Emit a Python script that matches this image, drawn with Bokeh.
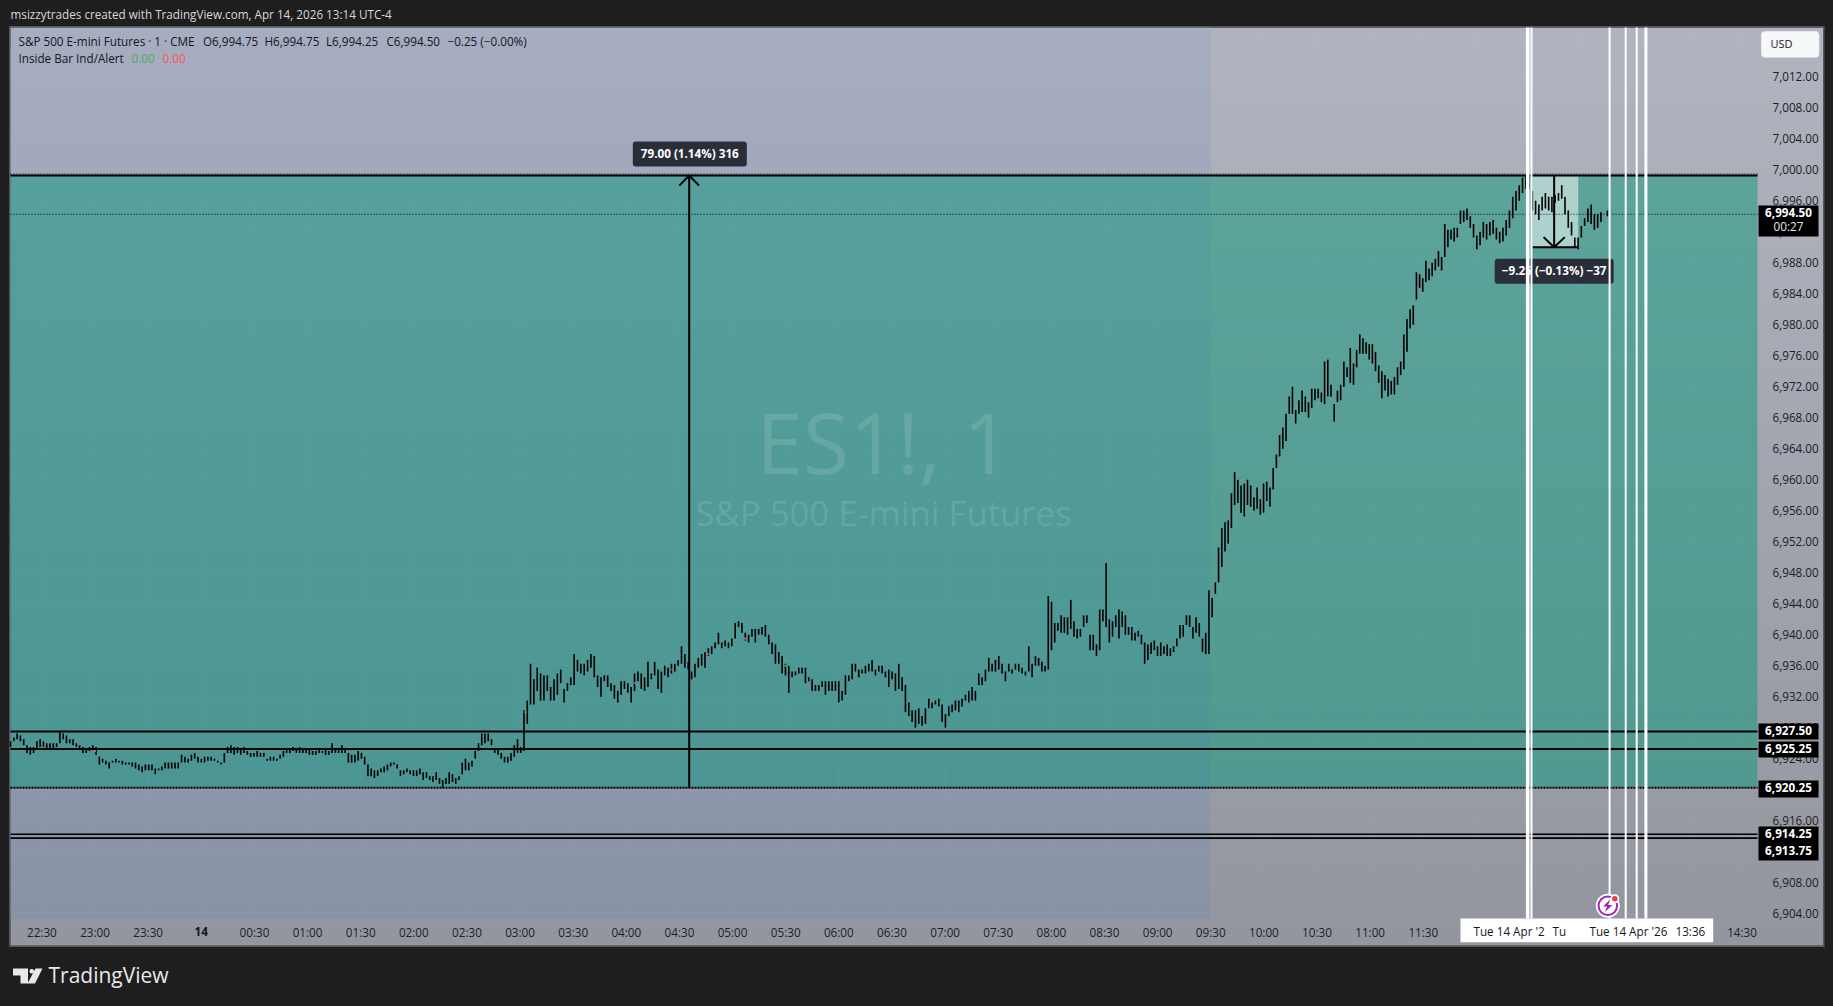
from bokeh.embed import file_html
from bokeh.resources import INLINE
from bokeh.plotting import figure
from bokeh.models import (BoxAnnotation, Label, LinearAxis, FixedTicker, Range1d,
                          PolyAnnotation, GlobalInlineStyleSheet, NumeralTickFormatter)
import numpy as np

# ---------- data: (high, low) in points above BASE ----------
BASE = 6900
range_a = [(26.25,25.5),(26.75,26.25),(27.25,26.5),(27,26.25),(26.5,25.75),(25.75,24.75),(25.5,24.5),(25.5,24.75),(26.25,25.25),(26.5,25.5),(26.25,25.5),(26,25.25),(26,25.25),(26,25.25),(26,25.5),(27.5,26),(27.25,26.5),(27,26),(26.5,26),(26.5,25.75),(26,25.5),(25.75,25.25),(25.5,24.75),(25.25,24.75),(25.5,25),(25.75,25.25),(25.5,24.5),
(24.25,23.25),(24,23.5),(23.75,23.25),(23.5,22.75),(23.75,23.5),(24,23.5),(23.75,23.5),(23.75,23.25),(23.5,23.25),(23.5,23.25),(23.5,23),(23.5,22.75),(23.25,22.5),(23,22.25),(23.25,22.5),(23.25,22.5),(23.25,22.5),(22.75,22),(22.75,22.5),(23,22.5),(23.5,22.75),(23.5,22.75),(23.5,22.75),(23.5,22.75),(23.5,22.75),(24.5,23.5),(24.25,23.5),(24,23.5),(24.5,23.75),(24.75,24),(24.25,23.5),(24,23.5),(24.25,23.5),(24.25,23.75),(24.25,23.75),(24,23.75),(23.75,23.5),(23.5,23.25),(24.75,23.5),(25.5,24.75),(25.75,24.75),(25.5,24.5),(25.5,24.75),(25.25,24.5),(25.5,24.75),(25,24.5),(24.75,24.25),(24.75,24.25),(25,24.25),(24.75,24.25),(24.75,24.25),(24,23.75)]
range_b = [(24.25,23.75),(24.25,23.75),(24,23.75),(24.5,24),(25,24.25),(25.25,24.75),(25.25,24.75),(25.5,25),(25.25,24.75),(25.5,24.75),(25.25,24.75),(25.25,24.75),(25.25,24.5),(25,24.5),(25,24.5),(25.25,24.75),(25,24.75),(25.25,24.5),(25,24.5),(26,24.75),(25.25,24.75),(25.25,24.75),(25.75,24.75),(25.25,24.75),(24.75,23.5),(24.5,23.5),(24.5,23.5),(25,23.75),(24.75,24),(24.25,23.25),(23.25,21.75),(22.75,21.75),(22.5,21.5),(22.5,21.75),(22.75,22.25),(23,22.25),(23.25,22.5),(23.5,23),(23.5,23.25),(23.25,22.75),(22.5,21.75),(22.5,22),(22.75,22.25),(22.5,22),(22.5,21.75),(22.5,21.75),(22.75,22),(22.25,21.25),(22.25,21.5),(21.75,21.25),(21.75,21),(22.25,21.25),(21.5,20.75),(21.25,20.25),(21.5,20.75),(22.25,20.75),(22,21),(21.5,20.75),(21.75,21.25),(23.5,22),(24,22.5),(23.5,22.5),(23.75,23),(25,24),(26,25),(27.25,25.75),(27.25,26),(27.25,26.25),(26.5,25.75),(25.25,24.75),(25.25,24.5),(24.75,24),(24.25,23.5),(24.25,23.5),(24.75,23.75),(25.75,24.25),(26.5,24.75),(25.5,24.75),(30.25,25),(31.5,28.5)]
range_c = [(36.25,31),(34.25,31),(35.75,32.75),(35,31.5),(34.75,31.5),(34.75,32.75),(33.25,31.5),(34.25,31.5),(35,32.25),(35.5,33.75),(33,31.25),(33.75,32.75),(34.5,33.5),(37.5,33.5),(36.75,35.25),(36.25,35),(36.25,34.75),(36.75,35.25),(37.5,35.75),(37.25,34.5),(34.75,33.25),(34.5,32),(34.75,34),(34.75,33.25),(33.75,32.75),(33.5,31.75),(32.75,31.25),(34,32.25),(34,33),(33.75,32.5),(33.25,31.25),(35,32.75),(35.25,34),(35,33),(34.5,32.75),(36.5,33.25),(35,34.25),(36.5,34.75),(35.5,33),(35.25,32.5),(36,34.75),(35.75,34.5),(36.25,35),(36.25,35.25),(36.75,36),(38.5,36.25),(37.5,35.75),(36.5,35.5),(35.25,34.25),(36.25,34.5),(37,35.75),(37.5,36),(37.75,35.75),(38.25,37.25),(38.5,37.5),(39,38.25),(40.25,38.75),(39,38.25),(39.25,38.5),(39,38.25),(39.5,38.5),(41.5,39.5),(41.75,41),(41.5,40.25),(40.25,39.25),(40,39),(40.75,39.75),(40.75,39),(40.75,40),(41,40),(41.25,39.75),(40,38.75),(39,37.5)]
range_d = [(38.75,36.25),(37.75,36.25),(37.25,35),(36.25,34.75),(36,32.5),(35.25,34.5),(35.25,34.75),(35.75,35),(35.75,35),(35.75,33.75),(34.5,34),(34.25,32.75),(33.5,32.75),(33.5,32.75),(34,33.25),(34,32.25),(34,32.75),(34,32.75),(34,32.75),(34,31.25),(32.75,31.5),(34.75,32.25),(34.75,34),(36.25,34.25),(36.25,35.25),(35.5,34.5),(35.5,35),(36,35),(36.25,35.25),(36.75,35.25),(35.5,34.75),(36,35.25),(36,35),(35.25,34.5),(35.5,33.25),(35.25,34.25),(35,32.75),(36.25,33),(34.5,32.75),(33.5,30),(31.25,29.5),(30.25,28.75),(30.25,28),(30.5,28.5),(29.5,28.25),(30.5,28.5),(31.75,30.5),(31.25,30.5),(31.5,31),(31.75,30.75),(31,28.75),(29.75,28),(30.75,29.5),(31,30),(31.5,30.25),(31.5,30),(31.75,30.75),(32.25,31.5),(32.75,31.25),(33.25,31.5),(32.75,31.5),(35,33.5),(34.5,33.5),(35.5,34),(37,35.25),(36.25,35.25),(36.75,35.25),(37.25,35.5),(36.25,35),(35.25,34),(36.25,35.25),(35.5,35),(36.25,35.5),(36.25,35.25),(35.75,35),(35.25,34.75),(38.5,35.25),(36.25,34.5)]
range_e = [(37.25,36),(37,36),(36.5,35.25),(36,35.25),(45,35.5),(44.25,38),(41.5,39),(41.5,40.5),(42.5,40.25),(42.25,40.25),(42.25,40),(44.5,40.75),(41.75,39.75),(40.75,39.5),(40.75,39.75),(42.5,41),(42.5,41.5),(40,38),(40,38),(38.75,37.25),(43.25,38),(43.25,41.75),(49.25,41),(42,39),(41.75,39.75),(42.5,41),(43.25,39.5),(43,41),(42.5,40),(41,40),(41,39.25),(40.25,39.25),(40.5,39.75),(40,38.75),(39,36.25),(38.75,36.75),(39,37.5),(39.25,38),(38.5,37.25),(39,37.25),(38.5,37.5),(38.75,37.25),(38.25,37.25),(38.5,37.75),(39.5,38.5),(41.25,39.5),(41.25,39.75),(42.5,41.25),(42.5,41),(41,39.5),(42.25,40.25),(41.5,39.75),(39.5,37.75),(40.25,37.5),(45.75,37.5),(44.75,42.25),(46.75,45.25),(51.25,46.75),(53.75,48.75),(54.5,50.75),(54.75,51.75),(58.25,53.75),(61,56.75),(60,57),(59.25,55.75),(59.5,55.25),(60,56.75),(59.25,56.5),(57.75,56),(59,56.25),(57.5,55.5),(59.5,55.75),(59.75,57.25),(59,56.5),(61.5,58.75),(63.25,61.5),(65.75,63),(66.75,64),(68.5,65),(70.75,68.5),(72,68.5),(69,67.25),(70.25,68.5),(71.5,68.75),(70.75,68.75),(70,68),(71.75,69.25),(71.75,70.25),(71.75,70.5),(71.25,70),(75.25,69.75),(75.5,70.75),(72.25,70.75),(69.75,67.5),(71.5,70),(72.25,70.25),(75.25,72),(74.5,73.25),(77,72.5)]
range_f = [(75,72.25),(76.75,74.5),(78.75,76.25),(78.25,76.25),(77.75,76.25),(77.5,75.5),(77.5,75),(76.5,74),(74.75,72.5),(74,70.5),(73.5,71.5),(73,70.75),(72.75,71),(73.25,71),(74.5,72.25),(75.25,73.5),(78.75,74.25),(80.75,76.5),(82,79.5),(82.5,80),(86.75,83.25),(86.5,84.75),(86,84.25),(88.25,85.5),(87.25,85.75),(88,86.25),(88.5,87),(89.5,87.5),(88.75,87),(93,88.75),(92.25,90),(92.25,91),(92.5,90.75),(92.5,91.25)]
range_g = [(94.75,93),(94.75,93.25),(95,93.5),(94,92.5),(93,91.25),(91.5,89.75),(92,90.25),(93.25,91.25),(93,91),(93.25,91.5),(93.5,91.75),(92.5,91),(92,90.5),(92.5,90.75),(93.5,91.5),(94.75,92.5),(96.5,93.75),(97.25,94.75),(98,96),(99,97),(99.25,97.5),(99.25,97.5),(97.25,94.75),(96,94.25),(95.5,93.5),(96.5,94.75),(97,95),(96.5,94.75),(96.5,94.5),(96.75,95.75),(97,96),(98,96.25),(96.5,94.25),(94.75,92.5),(93.25,91.5),(91.25,90),(91.25,89.75),(92.75,91.25),(93.75,92.75),(95,93.25),(95.5,93),(94.25,92.25),(94.25,92.5),(94.5,93.25),(94.75,94)]
# minutes after 22:30 at which each block of readings starts and ends
session_edges = [-17.7, 129, 275.9, 414.2, 561, 740.6, 801, 884]
sessions = [range_a, range_b, range_c, range_d, range_e, range_f, range_g]

price_ticks = list(range(6904, 7016, 4))
time_ticks = [i * 30 for i in range(33)]
time_labels = ["22:30","23:00","23:30","","00:30","01:00","01:30","02:00","02:30","03:00","03:30","04:00","04:30","05:00","05:30","06:00","06:30","07:00","07:30","08:00","08:30","09:00","09:30","10:00","10:30","11:00","11:30","12:00","12:30","13:00","13:30","14:00","14:30"]
level_lines = [6927.50, 6925.25, 6914.25, 6913.75]
range_high, range_low = 6999.25, 6920.25
drop_low = 6990.0
last_line = 6994.25
session_open_min = 660
white_line_min = [(838.96,3.6),(841.1,2),(885.2,2),(894.3,2),(900.5,2),(905.7,3)]
red_marks = [(335,33.75),(356,35.5),(376,37.5),(397,39.5),(433,33.5),(777,84.75),(30,25)]
green_marks = [(273,30),(758,73.75),(60,27.5),(420,36)]

# ---------- geometry: the frame fills the page, the panes sit inside it ----------
W, H = 1833, 1006
L, R, T, B = 10, 1757, 27, 918
PXMIN = 1.771
PXPT = 7.75
x_l = (L - 41.4) / PXMIN
x_r = (R - 41.4) / PXMIN
y_t = 7000 + (169.2 - T) / PXPT
y_b = 7000 - (B - 169.2) / PXPT
def px_x(px): return x_l + (px - L) / PXMIN
def px_y(py): return y_t - (py - T) / PXPT

FONT = "Open Sans"
p = figure(width=W, height=H, output_backend="svg", toolbar_location=None,
           x_range=Range1d(px_x(0), px_x(W)), y_range=Range1d(px_y(H), px_y(0)),
           min_border=0, x_axis_location="below", y_axis_location=None,
           border_fill_color="#1e1e1e", background_fill_color="#1e1e1e", outline_line_color=None)
p.stylesheets = [GlobalInlineStyleSheet(css="html,body{margin:0;padding:0;background:#1e1e1e;overflow:hidden}")]
p.grid.visible = False

def strips(xa, xb, ya, yb, c_top, c_bot, n=46):
    for i in range(n):
        f = i / (n - 1)
        col = tuple(int(round(a + (b - a) * f)) for a, b in zip(c_top, c_bot))
        t = ya + (yb - ya) * i / n
        b = yb if i == n - 1 else ya + (yb - ya) * (i + 2) / n
        p.add_layout(BoxAnnotation(left=px_x(xa), right=px_x(xb), top=px_y(t), bottom=px_y(b),
                                   fill_color="#%02x%02x%02x" % col, fill_alpha=1, line_color=None, level="underlay"))
strips(L, 1822.5, T, 945, (177,179,190), (148,150,159))
strips(L, PXMIN * (session_open_min - x_l) + L, T, B, (166,173,193), (138,146,168))
for kw in [dict(left=px_x(8.5), right=px_x(L), top=px_y(25.5), bottom=px_y(946.5)),
           dict(left=px_x(1822.5), right=px_x(1824), top=px_y(25.5), bottom=px_y(946.5)),
           dict(left=px_x(8.5), right=px_x(1824), top=px_y(25.5), bottom=px_y(T)),
           dict(left=px_x(8.5), right=px_x(1824), top=px_y(945), bottom=px_y(946.5))]:
    p.add_layout(BoxAnnotation(fill_color="#55565a", fill_alpha=1, line_color=None, level="underlay", **kw))

# range band and the lighter drop box
p.add_layout(BoxAnnotation(left=x_l, right=x_r, top=range_high, bottom=range_low, fill_color="#009678",
                           fill_alpha=0.466, line_color=None, level="underlay"))
drop_x = 853.9
p.add_layout(BoxAnnotation(left=841.7, right=867.5, top=range_high, bottom=drop_low, fill_color="#ffffff",
                           fill_alpha=0.5, line_color=None, level="underlay"))

# grid, kept inside the pane
p.segment(time_ticks, [y_b] * len(time_ticks), time_ticks, [y_t] * len(time_ticks), line_color="#ffffff", line_alpha=0.035, line_width=1)
p.segment([x_l] * len(price_ticks), price_ticks, [x_r] * len(price_ticks), price_ticks, line_color="#ffffff", line_alpha=0.035, line_width=1)

# axes, pinned to the pane edges
xa = p.xaxis[0]
xa.fixed_location = px_y(917)
xa.ticker = FixedTicker(ticks=time_ticks)
xa.major_label_overrides = dict(zip(time_ticks, time_labels))
ya = LinearAxis(ticker=FixedTicker(ticks=price_ticks), formatter=NumeralTickFormatter(format="0,0.00"), fixed_location=x_r)
p.add_layout(ya, "right")
for ax, standoff in ((xa, 0), (ya, 9)):
    ax.major_tick_line_color = None
    ax.minor_tick_line_color = None
    ax.axis_line_color = None
    ax.major_label_text_font = FONT
    ax.major_label_text_font_size = "11.7px"
    ax.major_label_text_color = "#1c1e26"
    ax.major_label_standoff = standoff

# bars
xs, hi, lo = [], [], []
for s, a, b in zip(sessions, session_edges[:-1], session_edges[1:]):
    t = np.linspace(a, b, len(s), endpoint=False)
    xs.extend(t.tolist())
    hi.extend(BASE + h for h, _ in s)
    lo.extend(BASE + l for _, l in s)
xs[-1] = session_edges[-1]
p.segment(xs, lo, xs, hi, line_color="#000000", line_width=1.6)
p.scatter([m for m, _ in red_marks], [BASE + v for _, v in red_marks], marker="square", size=2, color="#ef5350", line_color=None)
p.scatter([m for m, _ in green_marks], [BASE + v for _, v in green_marks], marker="square", size=2, color="#4caf50", line_color=None)

# measure arrows
UP_X = 365.5
p.segment([UP_X], [range_low], [UP_X], [range_high], line_color="black", line_width=2)
p.multi_line([[UP_X - 5.6, UP_X, UP_X + 5.6]], [[range_high - 1.3, range_high, range_high - 1.3]], line_color="black", line_width=2)
p.segment([drop_x], [range_high], [drop_x], [drop_low], line_color="black", line_width=2)
p.multi_line([[drop_x - 6, drop_x, drop_x + 6]], [[drop_low + 1.3, drop_low, drop_low + 1.3]], line_color="black", line_width=2)
p.segment([841.7], [drop_low], [867.5], [drop_low], line_color="black", line_width=2)

# horizontal levels
def hline(y, w, dash="solid"):
    p.segment([x_l], [y], [x_r], [y], line_color="black", line_width=w, line_dash=dash, level="annotation")
for lv, w in zip(level_lines, [2, 2, 1.6, 1.6]):
    hline(lv, w)
hline(range_high, 2)
hline(range_high + 0.2, 1, "1 2")
hline(range_low, 2, "2 1")
hline(last_line, 1, "1 2")

# watermark
p.add_layout(Label(x=px_x(883), y=px_y(441), text="ES1!, 1", text_font=FONT, text_font_size="84px", text_color="#ffffff",
                   text_alpha=0.12, text_align="center", text_baseline="middle"))
p.add_layout(Label(x=px_x(883), y=px_y(512), text="S&P 500 E-mini Futures", text_font=FONT, text_font_size="34.7px", text_color="#ffffff",
                   text_alpha=0.12, text_align="center", text_baseline="middle"))

def text(px, py, s, size="11.7px", color="#131722", align="left", style="normal", level="annotation", font=FONT):
    p.add_layout(Label(x=px_x(px), y=px_y(py - 1.5), text=s, text_font=font, text_font_size=size, text_color=color,
                       text_align=align, text_baseline="middle", text_font_style=style, level=level))

# tooltips stay under the white drawings
def tooltip(cx, py, s, halfw):
    p.add_layout(BoxAnnotation(left=px_x(cx - halfw), right=px_x(cx + halfw), top=px_y(py - 12.5), bottom=px_y(py + 12.5),
                               fill_color="#2a2e39", fill_alpha=1, line_color=None, border_radius=3, level="guide"))
    text(cx, py, s, color="#ffffff", align="center", style="bold", level="guide")
tooltip(689.3, 153.5, "79.00 (1.14%) 316", 57)
tooltip(1553.7, 270.7, "\u22129.25 (\u22120.13%) \u221237", 59.5)

# legend and captions
for px_pos, s in [(18, "S&P 500 E-mini Futures \u00b7 1 \u00b7 CME"), (202.5, "O6,994.75"), (264, "H6,994.75"),
                  (325.5, "L6,994.25"), (386, "C6,994.50"), (447, "\u22120.25 (\u22120.00%)")]:
    text(px_pos, 42, s)
text(18, 59, "Inside Bar Ind/Alert")
text(131, 59, "0.00", color="#4caf50")
text(162, 59, "0.00", color="#ff5252")
text(10, 15, "msizzytrades created with TradingView.com, Apr 14, 2026 13:14 UTC-4", color="#d8d8d8")

# time-axis cursor strip
p.add_layout(BoxAnnotation(left=px_x(1460), right=px_x(1712.7), top=px_y(B), bottom=px_y(941.7), fill_color="#ffffff", fill_alpha=1, line_color=None))
text(1473, 932, "Tue 14 Apr '2")
text(1552, 932, "Tu")
text(1589, 932, "Tue 14 Apr '26")
text(1675, 932, "13:36")
text(200.8, 932, "14", align="center", style="bold")

# USD button
p.add_layout(BoxAnnotation(left=px_x(1760.7), right=px_x(1818.7), top=px_y(30.7), bottom=px_y(57), fill_color="#f7f8fa", fill_alpha=1,
                           line_color="#dfe1e6", border_radius=4))
text(1770, 44, "USD", size="11px")

# price tags
def tag_box(top, bottom):
    p.add_layout(BoxAnnotation(left=px_x(1758), right=px_x(1818), top=px_y(top), bottom=px_y(bottom), fill_color="#000000", fill_alpha=1, line_color=None))
tag_box(205, 236)
text(1788, 213, "6,994.50", color="#ffffff", align="center", style="bold")
text(1788, 227, "00:27", color="#e8e8e8", align="center")
for top, bottom, cy, s in [(723, 739, 731, "6,927.50"), (741, 757, 749, "6,925.25"), (780, 797, 788, "6,920.25"), (826, 860, 834, "6,914.25")]:
    tag_box(top, bottom)
    text(1788, cy, s, color="#ffffff", align="center", style="bold")
text(1788, 851, "6,913.75", color="#ffffff", align="center", style="bold")

# white vertical drawings
for m, w in white_line_min:
    p.segment([m], [y_b], [m], [y_t], line_color="#ffffff", line_width=w, level="annotation")

# alert icon
ICON_X, ICON_P = px_x(1607.3), px_y(905.3)
p.scatter([ICON_X], [ICON_P], size=24, color="#ffffff", line_color=None, level="annotation")
p.scatter([ICON_X], [ICON_P], size=18.5, fill_color="#ffffff", line_color="#9c27b0", line_width=2, level="annotation")
p.scatter([px_x(1614.3)], [px_y(898.3)], size=9, color="#ffffff", line_color=None, level="annotation")
p.scatter([px_x(1614.3)], [px_y(898.3)], size=5.5, color="#f23645", line_color=None, level="annotation")
bolt = [(1609.5,899),(1602.5,906),(1606.5,906),(1604.5,911.5),(1612,904.5),(1607.8,904.5)]
p.patch([px_x(a) for a, _ in bolt], [px_y(b) for _, b in bolt], color="#9c27b0", line_color=None, level="annotation")

# TradingView mark
logo = [[(12.5,968),(27.5,968),(27.5,983),(20,983),(20,975),(12.5,975)],
        [(35,968),(42,968),(34.5,983),(27,983)]]
for poly in logo:
    p.add_layout(PolyAnnotation(xs=[px_x(a) for a, _ in poly], ys=[px_y(b) for _, b in poly], fill_color="#e8e8e8", fill_alpha=1, line_color=None))
p.add_layout(BoxAnnotation(left=px_x(29), right=px_x(33.5), top=px_y(968.5), bottom=px_y(973), fill_color="#e8e8e8", fill_alpha=1, line_color=None, border_radius=2))
text(48, 976, "TradingView", size="21px", color="#e8e8e8")

open("out.html", "w").write(file_html(p, INLINE))
